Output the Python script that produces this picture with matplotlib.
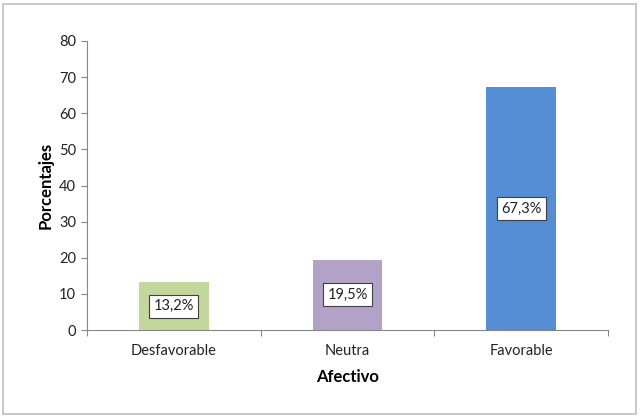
import numpy as np
import matplotlib
matplotlib.use('Agg')
import matplotlib.pyplot as plt
from matplotlib.patches import Rectangle

categories = ["Desfavorable", "Neutra", "Favorable"]
values = [13.2, 19.5, 67.3]
labels = ["13,2%", "19,5%", "67,3%"]
colors = ["#C3D69B", "#B3A2C7", "#558ED5"]

plt.rcParams['font.family'] = ['Lato', 'DejaVu Sans']

fig = plt.figure(figsize=(6.4, 4.17), dpi=100)
fig.patches.append(Rectangle((0.004, 0.008), 0.99, 0.983, transform=fig.transFigure,
                             fill=False, edgecolor='#BFBFBF', linewidth=1.2))
ax = fig.add_axes([0.136, 0.2086, 0.814, 0.6931])

x = np.arange(len(categories))
bars = ax.bar(x, values, width=0.4, color=colors, zorder=2)
for xi, v, lab in zip(x, values, labels):
    ax.text(xi, v / 2, lab, ha='center', va='center', fontsize=10.5, color='#222222',
            bbox=dict(boxstyle='square,pad=0.3', facecolor='white', edgecolor='#404040',
                      linewidth=0.8), zorder=3)

ax.set_xlim(-0.5, 2.5)
ax.set_ylim(0, 80)
ax.set_yticks(range(0, 81, 10))
ax.set_xticks(x)
ax.set_xticklabels(categories)
ax.set_xticks([-0.5, 0.5, 1.5, 2.5], minor=True)
ax.tick_params(axis='x', which='major', length=0, pad=10, labelsize=10.5, colors='#222222')
ax.tick_params(axis='x', which='minor', length=4, color='#868686', width=0.8)
ax.tick_params(axis='y', length=4, color='#868686', width=0.8, labelsize=10.5,
               labelcolor='#222222', pad=4)
for s in ['top', 'right']:
    ax.spines[s].set_visible(False)
for s in ['left', 'bottom']:
    ax.spines[s].set_color('#868686')
    ax.spines[s].set_linewidth(0.8)

ax.set_ylabel("Porcentajes", fontsize=12, fontweight='bold', labelpad=4)
ax.set_xlabel("Afectivo", fontsize=12, fontweight='bold', labelpad=8)

fig.savefig("out.png", dpi=100)
